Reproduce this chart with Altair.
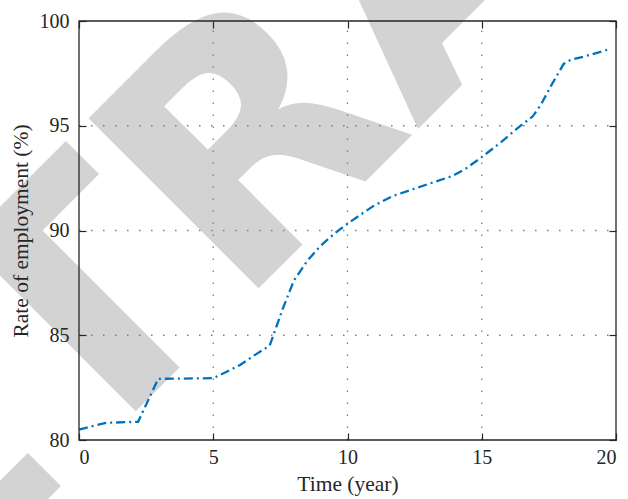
import altair as alt
import pandas as pd

# Data
years = [0, 1.0, 2.2, 2.95, 5.0, 5.5, 6.0, 6.6, 7.1, 7.6, 8.0, 8.5, 9.0, 9.5,
         10.0, 10.5, 11.0, 11.7, 12.5, 13.2, 13.9, 14.4, 15.0, 15.7, 16.3,
         16.9, 17.2, 17.6, 18.05, 18.3, 18.8, 19.75]
rate = [80.5, 80.82, 80.87, 82.92, 82.95, 83.26, 83.58, 84.1, 84.5, 86.3,
        87.6, 88.55, 89.27, 89.84, 90.32, 90.77, 91.2, 91.65, 92.0, 92.3,
        92.6, 92.95, 93.5, 94.2, 94.85, 95.45, 96.0, 96.95, 97.95, 98.14,
        98.3, 98.65]

x_ticks = [0, 5, 10, 15, 20]
y_ticks = [80, 85, 90, 95, 100]
x_grid = [5, 10, 15]
y_grid = [85, 90, 95]

x_title = "Time (year)"
y_title = "Rate of employment (%)"
watermark = "RETRACTED"

df = pd.DataFrame({"t": years, "r": rate})
gx = pd.DataFrame({"gx": x_grid})
gy = pd.DataFrame({"gy": y_grid})

W, H = 537, 419
FONT = "Liberation Serif"
DARK = "#262626"
xs = alt.Scale(domain=[0, 20], nice=False, zero=False)
ys = alt.Scale(domain=[80, 100], nice=False, zero=False)

common_axis = dict(
    tickSize=7, offset=-7, domain=False, grid=False, tickColor=DARK,
    tickWidth=1.2, labelFont=FONT, labelFontSize=20, labelColor=DARK,
    titleFont=FONT, titleFontSize=21.5, titleFontWeight="normal",
    titleColor=DARK, zindex=1,
)

# Watermark (decorative)
wm = alt.Chart(pd.DataFrame({"w": [watermark]})).mark_text(
    font="DejaVu Sans", fontWeight="bold", fontSize=330, color="#d3d3d3",
    angle=315, align="center", baseline="alphabetic", clip=False,
).encode(text="w:N", x=alt.value(431), y=alt.value(16))

grid_x = alt.Chart(gx).mark_rule(
    color="#7f7f7f", strokeDash=[1.5, 10.5], strokeWidth=1.3
).encode(
    x=alt.X("gx:Q", scale=xs, axis=alt.Axis(orient="top", values=x_ticks, labels=False, title=None, **common_axis)),
    y=alt.Y(datum=80, scale=ys, axis=None),
    y2=alt.Y2(datum=100),
)

grid_y = alt.Chart(gy).mark_rule(
    color="#7f7f7f", strokeDash=[1.5, 10.5], strokeWidth=1.3
).encode(
    y=alt.Y("gy:Q", scale=ys, axis=alt.Axis(orient="right", values=y_ticks, labels=False, title=None, **common_axis)),
    x=alt.X(datum=0, scale=xs, axis=None),
    x2=alt.X2(datum=20),
)

line = alt.Chart(df).mark_line(
    color="#0072BD", strokeWidth=2.3, strokeDash=[9, 4, 2, 4]
).encode(
    x=alt.X("t:Q", scale=xs, axis=alt.Axis(orient="bottom", values=x_ticks, title=x_title,
                                          labelPadding=7, titlePadding=6, **common_axis)),
    y=alt.Y("r:Q", scale=ys, axis=alt.Axis(orient="left", values=y_ticks, title=y_title,
                                          labelPadding=10, titlePadding=7, **common_axis)),
    order="t:Q",
)

box = alt.Chart(pd.DataFrame({"k": [0]})).mark_rect(
    fillOpacity=0, stroke=DARK, strokeWidth=1.3
).encode(
    x=alt.X(datum=0, scale=xs, axis=None),
    x2=alt.X2(datum=20),
    y=alt.Y(datum=80, scale=ys, axis=None),
    y2=alt.Y2(datum=100),
)

chart = alt.layer(wm, grid_x, grid_y, line, box).resolve_axis(
    x="independent", y="independent"
).properties(
    width=W, height=H,
    autosize=alt.AutoSizeParams(type="none"),
    padding={"left": 79, "top": 21, "right": 12, "bottom": 59},
    background="white",
).configure_view(stroke=None)

chart.save("out.html", embed_options={"renderer": "svg", "actions": False})
